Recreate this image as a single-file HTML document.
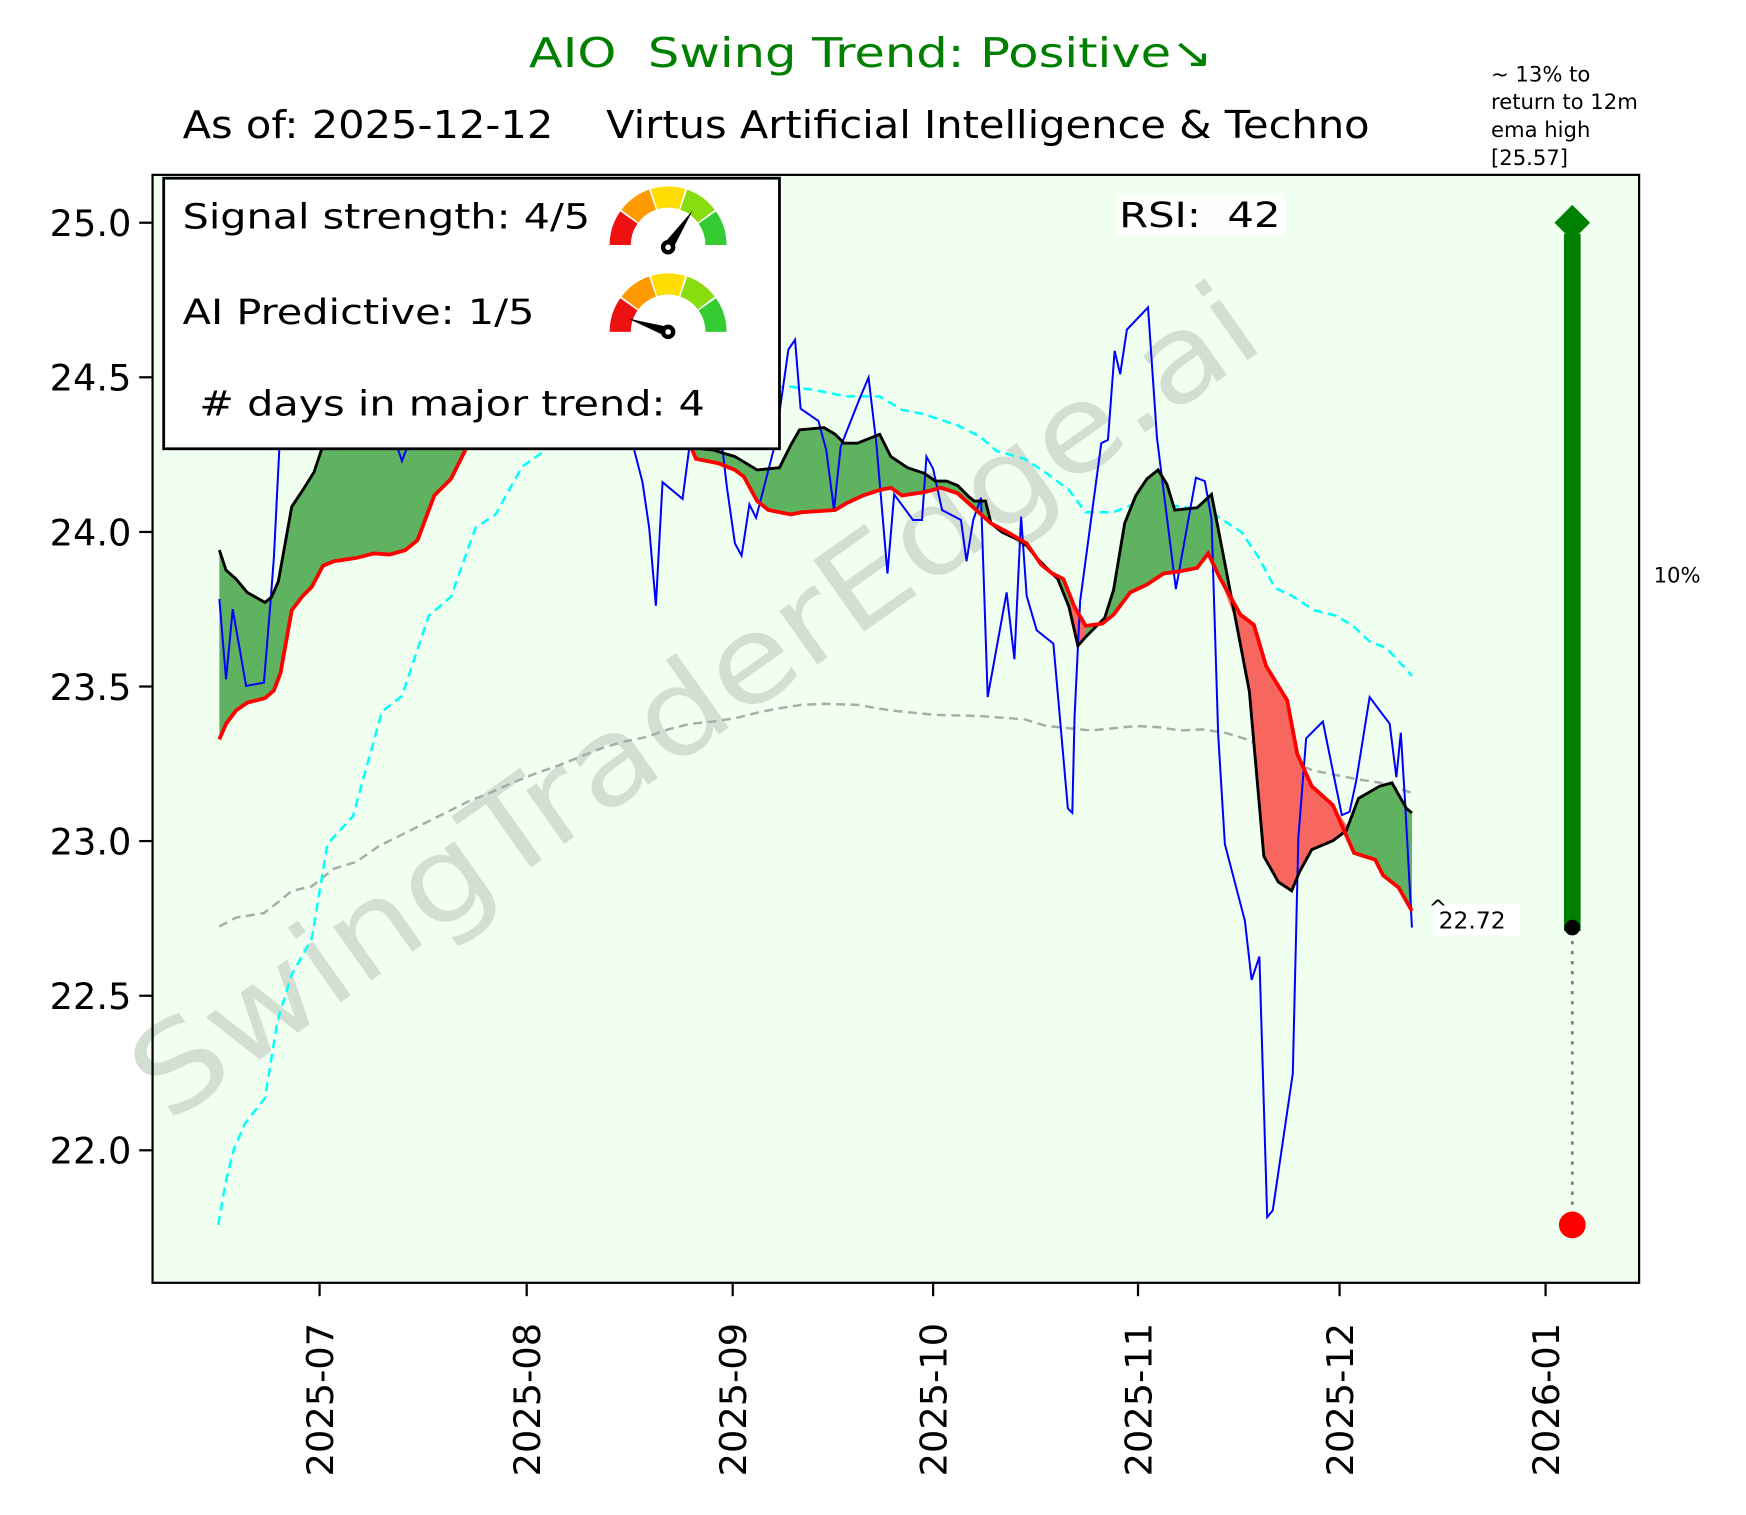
<!DOCTYPE html>
<html><head><meta charset="utf-8"><style>html,body{margin:0;padding:0;background:#fff;}svg{display:block;}</style></head>
<body>
<svg xmlns="http://www.w3.org/2000/svg" width="1746" height="1515" viewBox="0 0 1568 1360.5" font-family="'DejaVu Sans','Liberation Sans',sans-serif">
<rect x="0" y="0" width="1568" height="1360.5" fill="#fff"/>
<text x="782" y="60" text-anchor="middle" font-size="37" fill="#008000" textLength="614" lengthAdjust="spacingAndGlyphs" xml:space="preserve" style="white-space:pre">AIO  Swing Trend: Positive↘</text>
<text x="164" y="124" font-size="34" fill="#000" textLength="1066" lengthAdjust="spacingAndGlyphs" xml:space="preserve" style="white-space:pre">As of: 2025-12-12    Virtus Artificial Intelligence &amp; Techno</text>
<g font-size="19" fill="#000">
<text x="1339" y="73">~ 13% to</text>
<text x="1339" y="98">return to 12m</text>
<text x="1339" y="123">ema high</text>
<text x="1339" y="148">[25.57]</text>
</g>
<rect x="137" y="157" width="1335" height="995" fill="#f0fff0"/>
<defs><clipPath id="pc"><rect x="137" y="157" width="1335" height="995"/></clipPath></defs>
<text x="645" y="660" transform="rotate(-35.3 645 660)" text-anchor="middle" font-size="108" fill="#d3dfd3" textLength="1210" lengthAdjust="spacingAndGlyphs">SwingTraderEdge.ai</text>
<g clip-path="url(#pc)">
<polyline fill="none" stroke="#aaaaaa" stroke-width="2.2" stroke-dasharray="8,5" points="197,832 212,824 237,820 250,810 262,800 280,796 300,780 320,774 340,760 360,750 380,740 400,730 420,720 440,712 460,703 480,695 500,688 520,680 540,672 560,666 580,662 600,655 620,650 640,648 660,645 680,640 700,636 720,633 740,632 770,633 800,638 840,642 880,643 920,646 940,652 980,656 1000,654 1020,652 1040,653 1060,656 1080,655 1100,658 1120,664 1140,675 1160,685 1180,692 1200,696 1220,700 1240,703 1268,712"/>
<polyline fill="none" stroke="#00ffff" stroke-width="2.2" stroke-dasharray="8,5" points="196,1100 203,1060 210,1032 220,1009 238,986 249,918 262,875 280,843 294,758 317,733 343,639 361,625 385,553 405,536 427,474 445,462 469,419 489,405 510,380 560,360 620,350 680,348 708,347 730,350 760,356 790,356 810,368 830,372 860,382 880,392 895,405 920,412 940,425 960,440 975,460 1000,460 1020,452 1040,452 1060,455 1085,458 1100,468 1115,478 1130,500 1145,528 1160,535 1180,548 1200,553 1215,562 1230,576 1245,582 1260,598 1268,607"/>
<polygon fill="#5fb25f" stroke="none" points="197,494 203,512 212,520 222,532 238,541 244,536 250,522 262,455 272,440 282,424 290,400 320,360 400,340 500,340 600,380 620,402 640,404 660,410 680,422 700,420 710,400 718,386 740,384 750,390 758,398 770,398 790,390 800,410 815,420 830,425 840,432 850,432 860,436 870,446 875,450 885,450 890,470 900,478 915,485 922,490 930,500 940,510 950,520 960,545 968,580 975,572 992,555 1000,530 1010,470 1020,445 1030,430 1040,422 1048,435 1055,458 1075,456 1088,444 1095,480 1110,558 1122,621 1135,769 1148,792 1160,800 1167,783 1178,763 1197,755 1209,746 1220,717 1239,706 1250,703 1263,726 1268,730 1268,818 1256,797 1242,786 1235,772 1216,766 1197,723 1178,706 1165,677 1156,629 1137,598 1126,561 1114,552 1095,518 1085,497 1075,510 1060,513 1045,515 1030,525 1015,532 1000,552 990,560 975,562 965,545 955,520 945,515 935,507 922,488 905,478 890,470 880,461 870,452 860,443 845,438 830,442 810,445 800,438 790,440 775,445 760,452 750,458 720,460 710,462 690,458 680,450 668,428 660,422 645,416 625,412 620,400 560,380 480,360 420,400 405,430 390,445 375,485 364,494 350,498 336,497 320,501 300,504 290,508 280,527 272,535 262,548 252,604 246,620 238,627 222,631 212,638 203,650 197,664"/>
<polygon fill="#f7665f" stroke="none" points="1095,518 1110,558 1122,621 1135,769 1148,792 1160,800 1167,783 1178,763 1197,755 1209,746 1212,745 1197,723 1178,706 1165,677 1156,629 1137,598 1126,561 1114,552"/>
<polygon fill="#f7665f" stroke="none" points="958,540 968,580 975,572 975,562 965,545"/>
<polyline fill="none" stroke="#0000ff" stroke-width="1.8" points="197,538 203,610 209,547 221,616 237,613 243,540 246,500 251,400 256,300 300,300 350,330 356,399 361,414 367,398 400,320 500,300 560,360 569,402 577,433 583,474 589,544 595,433 613,448 619,402 630,380 649,405 653,439 660,488 666,499 673,453 679,465 696,399 708,314 714,305 719,367 735,378 742,404 749,458 755,401 772,358 780,339 787,398 797,515 803,444 820,467 828,467 832,410 838,421 846,458 863,467 868,504 874,467 881,447 887,626 904,532 911,592 917,464 922,535 931,566 946,578 959,726 963,730 965,644 970,540 989,398 995,395 1001,315 1006,336 1012,296 1031,276 1039,393 1056,529 1074,429 1082,432 1088,466 1094,660 1100,758 1118,827 1124,880 1131,859 1138,1093 1143,1087 1161,964 1166,752 1173,663 1188,648 1205,732 1212,729 1218,701 1230,626 1248,650 1254,698 1258,658 1262,723 1268,833"/>
<polyline fill="none" stroke="#000" stroke-width="2.6" points="197,494 203,512 212,520 222,532 238,541 244,536 250,522 262,455 272,440 282,424 290,400 320,360 400,340 500,340 600,380 620,402 640,404 660,410 680,422 700,420 710,400 718,386 740,384 750,390 758,398 770,398 790,390 800,410 815,420 830,425 840,432 850,432 860,436 870,446 875,450 885,450 890,470 900,478 915,485 922,490 930,500 940,510 950,520 960,545 968,580 975,572 992,555 1000,530 1010,470 1020,445 1030,430 1040,422 1048,435 1055,458 1075,456 1088,444 1095,480 1110,558 1122,621 1135,769 1148,792 1160,800 1167,783 1178,763 1197,755 1209,746 1220,717 1239,706 1250,703 1263,726 1268,730"/>
<polyline fill="none" stroke="#ff0000" stroke-width="3.4" points="197,664 203,650 212,638 222,631 238,627 246,620 252,604 262,548 272,535 280,527 290,508 300,504 320,501 336,497 350,498 364,494 375,485 390,445 405,430 420,400 480,360 560,380 620,400 625,412 645,416 660,422 668,428 680,450 690,458 710,462 720,460 750,458 760,452 775,445 790,440 800,438 810,445 830,442 845,438 860,443 870,452 880,461 890,470 905,478 922,488 935,507 945,515 955,520 965,545 975,562 990,560 1000,552 1015,532 1030,525 1045,515 1060,513 1075,510 1085,497 1095,518 1114,552 1126,561 1137,598 1156,629 1165,677 1178,706 1197,723 1216,766 1235,772 1242,786 1256,797 1268,818"/>
<line x1="1412" y1="836" x2="1412" y2="1095" stroke="#808080" stroke-width="2.5" stroke-dasharray="3,6"/>
<rect x="1404.5" y="210" width="15" height="626" fill="#008000"/>
<polygon points="1412,184 1428,200 1412,216 1396,200" fill="#008000"/>
<circle cx="1412" cy="833" r="7" fill="#000"/>
<circle cx="1412" cy="1100" r="12" fill="#ff0000"/>
</g>
<rect x="137" y="157" width="1335" height="995" fill="none" stroke="#000" stroke-width="2"/>
<rect x="1002" y="174" width="152" height="38" fill="#fff" opacity="0.8"/>
<text x="1005" y="204" font-size="31" fill="#000" textLength="145" lengthAdjust="spacingAndGlyphs" xml:space="preserve" style="white-space:pre">RSI:  42</text>
<rect x="1289" y="812" width="76" height="28" fill="#fff"/>
<text x="1283" y="822" font-size="20" fill="#000">^</text>
<text x="1292" y="834" font-size="21" fill="#000">22.72</text>
<text x="1485" y="523" font-size="19" fill="#000">10%</text>
<rect x="147" y="160" width="553" height="243" fill="#fff" stroke="#000" stroke-width="2.5"/>
<g font-size="31" fill="#000">
<text x="164" y="205" textLength="366" lengthAdjust="spacingAndGlyphs">Signal strength: 4/5</text>
<text x="164" y="291" textLength="316" lengthAdjust="spacingAndGlyphs">AI Predictive: 1/5</text>
<text x="179" y="373" textLength="454" lengthAdjust="spacingAndGlyphs"># days in major trend: 4</text>
</g>
<g fill="none" stroke-width="19">
<path d="M557,220 A43,43 0 0 1 564.8,195.3" stroke="#ee1111"/>
<path d="M565.7,194.1 A43,43 0 0 1 586,179.3" stroke="#ff9900"/>
<path d="M587.4,178.9 A43,43 0 0 1 612.6,178.9" stroke="#ffdd00"/>
<path d="M614,179.3 A43,43 0 0 1 634.3,194.1" stroke="#88dd11"/>
<path d="M635.2,195.3 A43,43 0 0 1 643,220" stroke="#33cc33"/>
<path d="M557,298 A43,43 0 0 1 564.8,273.3" stroke="#ee1111"/>
<path d="M565.7,272.1 A43,43 0 0 1 586,257.3" stroke="#ff9900"/>
<path d="M587.4,256.9 A43,43 0 0 1 612.6,256.9" stroke="#ffdd00"/>
<path d="M614,257.3 A43,43 0 0 1 634.3,272.1" stroke="#88dd11"/>
<path d="M635.2,273.3 A43,43 0 0 1 643,298" stroke="#33cc33"/>
</g>
<polygon points="596,219 604,224 622,189" fill="#000"/>
<circle cx="600" cy="222" r="6.5" fill="#000"/><circle cx="600" cy="222" r="2.5" fill="#fff"/>
<polygon points="602,294 598,302 564,286" fill="#000"/>
<circle cx="600" cy="298" r="6.5" fill="#000"/><circle cx="600" cy="298" r="2.5" fill="#fff"/>
<g stroke="#000" stroke-width="2">
<line x1="125" y1="200" x2="137" y2="200"/><line x1="125" y1="338.8" x2="137" y2="338.8"/><line x1="125" y1="477.7" x2="137" y2="477.7"/><line x1="125" y1="616.5" x2="137" y2="616.5"/><line x1="125" y1="755.3" x2="137" y2="755.3"/><line x1="125" y1="894.2" x2="137" y2="894.2"/><line x1="125" y1="1033" x2="137" y2="1033"/>
<line x1="287" y1="1152" x2="287" y2="1164"/><line x1="473" y1="1152" x2="473" y2="1164"/><line x1="658" y1="1152" x2="658" y2="1164"/><line x1="838" y1="1152" x2="838" y2="1164"/><line x1="1022" y1="1152" x2="1022" y2="1164"/><line x1="1203" y1="1152" x2="1203" y2="1164"/><line x1="1388" y1="1152" x2="1388" y2="1164"/>
</g>
<g font-size="33" fill="#000" text-anchor="end">
<text x="118" y="212">25.0</text><text x="118" y="350.8">24.5</text><text x="118" y="489.7">24.0</text><text x="118" y="628.5">23.5</text><text x="118" y="767.3">23.0</text><text x="118" y="906.2">22.5</text><text x="118" y="1045">22.0</text>
<text transform="translate(299,1188) rotate(-90)">2025-07</text>
<text transform="translate(485,1188) rotate(-90)">2025-08</text>
<text transform="translate(670,1188) rotate(-90)">2025-09</text>
<text transform="translate(850,1188) rotate(-90)">2025-10</text>
<text transform="translate(1034,1188) rotate(-90)">2025-11</text>
<text transform="translate(1215,1188) rotate(-90)">2025-12</text>
<text transform="translate(1400,1188) rotate(-90)">2026-01</text>
</g>
</svg>
</body></html>
